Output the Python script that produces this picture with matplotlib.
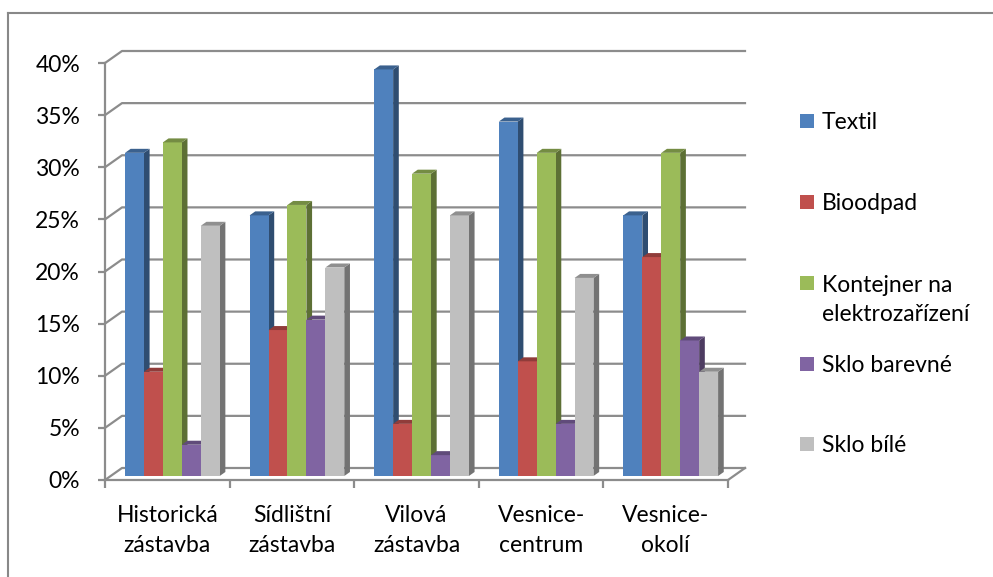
import matplotlib.pyplot as plt
from matplotlib.patches import Polygon, Rectangle
from matplotlib.lines import Line2D
import numpy as np

plt.rcParams['font.family'] = ['Lato', 'DejaVu Sans']

categories = ["Historická\nzástavba", "Sídlištní\nzástavba", "Vilová\nzástavba",
              "Vesnice-\ncentrum", "Vesnice-\nokolí"]
series = ["Textil", "Bioodpad", "Kontejner na\nelektrozařízení", "Sklo barevné", "Sklo bílé"]
textil = [0.31, 0.25, 0.39, 0.34, 0.25]
bioodpad = [0.10, 0.14, 0.05, 0.11, 0.21]
kontejner = [0.32, 0.26, 0.29, 0.31, 0.31]
sklo_barevne = [0.03, 0.15, 0.02, 0.05, 0.13]
sklo_bile = [0.24, 0.20, 0.25, 0.19, 0.10]
values = [textil, bioodpad, kontejner, sklo_barevne, sklo_bile]
yticks = [0.0, 0.05, 0.10, 0.15, 0.20, 0.25, 0.30, 0.35, 0.40]

colors = ["#4F81BD", "#C0504D", "#9BBB59", "#8064A2", "#BFBFBF"]
grid_c = "#8C8C8C"
fs = 16.5


def shade(hex_c, f):
    c = np.array([int(hex_c[i:i + 2], 16) for i in (1, 3, 5)]) / 255.0
    return tuple(c * f)


W, H, DPI = 993, 577, 100
fig = plt.figure(figsize=(W / DPI, H / DPI), dpi=DPI)

# front plane of the 3-D box, in pixels
x0, x1, y0, y1 = 105, 728, 480, 63
ax = fig.add_axes([x0 / W, (H - y0) / H, (x1 - x0) / W, (y0 - y1) / H])
n = len(categories)
ymax = 0.40
ax.set_xlim(0, n)
ax.set_ylim(0, ymax)

# pixel -> data conversion for the depth offsets
sx = n / (x1 - x0)
sy = ymax / (y0 - y1)
depth = np.array([17 * sx, 12 * sy])      # full box depth
d_front = depth / 3                        # bar front plane
d_back = depth * 2 / 3                     # bar back plane

# back wall gridlines + left wall diagonals
for v in yticks:
    ax.add_line(Line2D([0, depth[0], n + depth[0]], [v, v + depth[1], v + depth[1]],
                       color=grid_c, lw=1.6, zorder=1, clip_on=False))
# floor outline (right edge)
ax.add_line(Line2D([n, n + depth[0]], [0, depth[1]], color=grid_c, lw=1.6,
                   zorder=1, clip_on=False))

# bars: front face via ax.bar, side and top faces as polygons
gap = 0.115
bw = 0.152
for j, (vals, col) in enumerate(zip(values, colors)):
    xs = np.arange(n) + gap + j * bw
    z = 3 + 2 * j
    ax.bar(xs + d_front[0], vals, width=bw, bottom=d_front[1], align='edge',
           color=col, linewidth=0, zorder=z + 1, clip_on=False)
    for x, v in zip(xs, vals):
        side = [(x + d_front[0] + bw, d_front[1]), (x + d_back[0] + bw, d_back[1]),
                (x + d_back[0] + bw, d_back[1] + v), (x + d_front[0] + bw, d_front[1] + v)]
        top = [(x + d_front[0], d_front[1] + v), (x + d_front[0] + bw, d_front[1] + v),
               (x + d_back[0] + bw, d_back[1] + v), (x + d_back[0], d_back[1] + v)]
        ax.add_patch(Polygon(side, closed=True, fc=shade(col, 0.6), ec='none',
                             zorder=z, clip_on=False))
        ax.add_patch(Polygon(top, closed=True, fc=shade(col, 0.75), ec='none',
                             zorder=z + 1.5, clip_on=False))

# front axes
for s in ['top', 'right']:
    ax.spines[s].set_visible(False)
for s in ['left', 'bottom']:
    ax.spines[s].set_color(grid_c)
    ax.spines[s].set_linewidth(1.6)
ax.patch.set_visible(False)

ax.set_yticks(yticks)
ax.set_yticklabels([f"{int(round(v * 100))}%" for v in yticks], fontsize=fs)
ax.tick_params(axis='y', length=5, width=1.6, color=grid_c, pad=13)

ax.set_xticks(np.arange(n + 1))
ax.set_xticklabels([])
ax.tick_params(axis='x', which='major', length=6, width=1.6, color=grid_c)
ax.set_xticks(np.arange(n) + 0.5, minor=True)
ax.set_xticklabels(categories, minor=True, fontsize=fs, linespacing=1.5)
ax.tick_params(axis='x', which='minor', length=0, pad=18)

# legend (marker sits on the first line of each label)
leg_y = [121, 202, 283, 364, 444]
line_px = 30
for lbl, col, yy in zip(series, colors, leg_y):
    fig.add_artist(Rectangle((800 / W, (H - yy - 7) / H), 14 / W, 14 / H,
                             transform=fig.transFigure, fc=col, ec='none'))
    extra = lbl.count("\n") * line_px
    fig.text(822 / W, (H - yy - 8 - extra) / H, lbl, fontsize=fs, va='baseline',
             linespacing=1.45, transform=fig.transFigure)

# chart-area border
fig.add_artist(Line2D([8 / W, 1], [1 - 13 / H, 1 - 13 / H], color="#888888", lw=1.5,
                      transform=fig.transFigure))
fig.add_artist(Line2D([8 / W, 8 / W], [0, 1 - 13 / H], color="#888888", lw=1.5,
                      transform=fig.transFigure))

fig.savefig("out.png", dpi=DPI)
